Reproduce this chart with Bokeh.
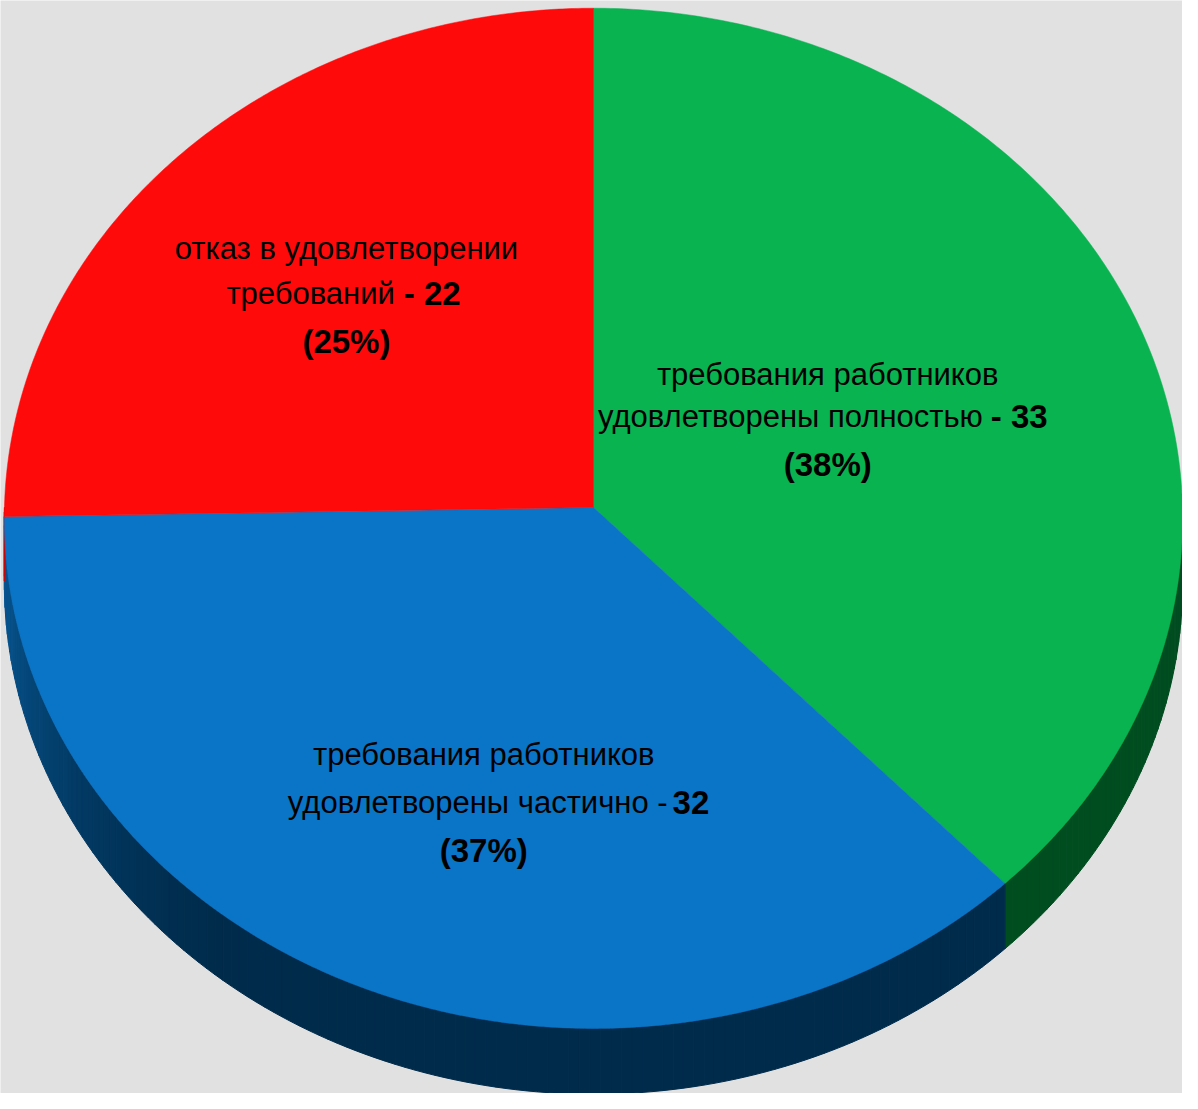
import numpy as np
from bokeh.plotting import figure
from bokeh.models import Range1d
from bokeh.core.properties import value
from bokeh.embed import file_html
from bokeh.resources import INLINE

# ---------------- data ----------------
categories = [
    "требования работников удовлетворены полностью",
    "требования работников удовлетворены частично",
    "отказ в удовлетворении требований",
]
counts = [33, 32, 22]
label_line1 = ["требования работников", "требования работников", "отказ в удовлетворении"]
label_line2 = ["удовлетворены полностью", "удовлетворены частично", "требований"]
dash_bold = [True, False, True]

# ---------------- style ----------------
top_colors = [(8, 179, 80), (10, 116, 198), (254, 10, 10)]
side_colors = [(0, 77, 32), (0, 43, 75), (120, 0, 0)]
BG = "#e1e1e1"
FONT = "Liberation Sans"
FS = "31px"
FS_BOLD = "33px"

# geometry of the tilted pie (in page-like units)
CX, CY = 603.0, 516.0
S, SY = 596.0, 515.0
K = 0.0214
DEPTH = 65.0

# label layout
lab_x = [840, 492, 353]
base1 = [382, 766, 254]
base2 = [424, 814, 300]
base3 = [473, 863, 348]
split_reg = [997, 678, 402]
split_bold = [1005, 683, 411]


def proj(theta_deg, drop=0.0):
    t = np.radians(theta_deg)
    w = 1.0 + K * np.sin(t)
    x = CX + S * np.cos(t) / w
    y = CY - SY * np.sin(t) / w + drop / w
    return x, y


def hexc(c):
    return "#%02x%02x%02x" % tuple(int(round(v)) for v in c)


p = figure(width=1182, height=1093, x_range=Range1d(3, 1199), y_range=Range1d(1108, 4),
           output_backend="svg", toolbar_location=None, min_border=0)
p.axis.visible = False
p.grid.visible = False
p.outline_line_color = None
p.background_fill_color = BG
p.border_fill_color = BG

total = float(sum(counts))
starts, ends = [], []
a = 90.0
for c in counts:
    span = 360.0 * c / total
    starts.append(a)
    ends.append(a - span)
    a -= span

# ---- side (front half, angles -180..0) ----
sx, sy, scol = [], [], []
for i in range(len(counts)):
    lo = max(ends[i], -180.0)
    hi = min(starts[i], 0.0)
    if hi <= lo:
        continue
    n = max(2, int(np.ceil((hi - lo) / 1.0)) + 1)
    th = np.linspace(lo, hi, n)
    for j in range(n - 1):
        t0, t1 = th[j], th[j + 1]
        x0, y0 = proj(t0)
        x1, y1 = proj(t1)
        bx0, by0 = proj(t0, DEPTH)
        bx1, by1 = proj(t1, DEPTH)
        sx.append([x0, x1, bx1, bx0])
        sy.append([y0, y1, by1, by0])
        tm = 0.5 * (t0 + t1)
        f = np.clip((-128.0 - tm) / 52.0, 0, 1) ** 1.3
        light = np.array(top_colors[i]) * 0.78
        col = np.array(side_colors[i]) * (1 - f) + light * f
        scol.append(hexc(col))
p.patches(sx, sy, fill_color=scol, line_color=scol, line_width=1)

# ---- top faces ----
tx, ty, tcol = [], [], []
for i in range(len(counts)):
    th = np.linspace(starts[i], ends[i], 240)
    x, y = proj(th)
    tx.append([CX] + list(x))
    ty.append([CY] + list(y))
    tcol.append(hexc(top_colors[i]))
p.patches(tx, ty, fill_color=tcol, line_color=tcol, line_width=0.5)

# ---- labels ----
pcts = [int(round(100.0 * c / total)) for c in counts]
reg2 = [label_line2[i] + ("" if dash_bold[i] else " -") for i in range(len(counts))]
bold2 = [("- " if dash_bold[i] else "") + str(counts[i]) for i in range(len(counts))]
line3 = ["(%d%%)" % v for v in pcts]

common = dict(text_font=value(FONT), text_color="black", text_baseline="alphabetic")
p.text(x=lab_x, y=base1, text=label_line1, text_align="center", text_font_size=FS, **common)
p.text(x=split_reg, y=base2, text=reg2, text_align="right", text_font_size=FS, **common)
p.text(x=split_bold, y=base2, text=bold2, text_align="left", text_font_style="bold",
       text_font_size=FS_BOLD, **common)
p.text(x=lab_x, y=base3, text=line3, text_align="center", text_font_style="bold",
       text_font_size=FS_BOLD, **common)

open("out.html", "w").write(file_html(p, INLINE))
